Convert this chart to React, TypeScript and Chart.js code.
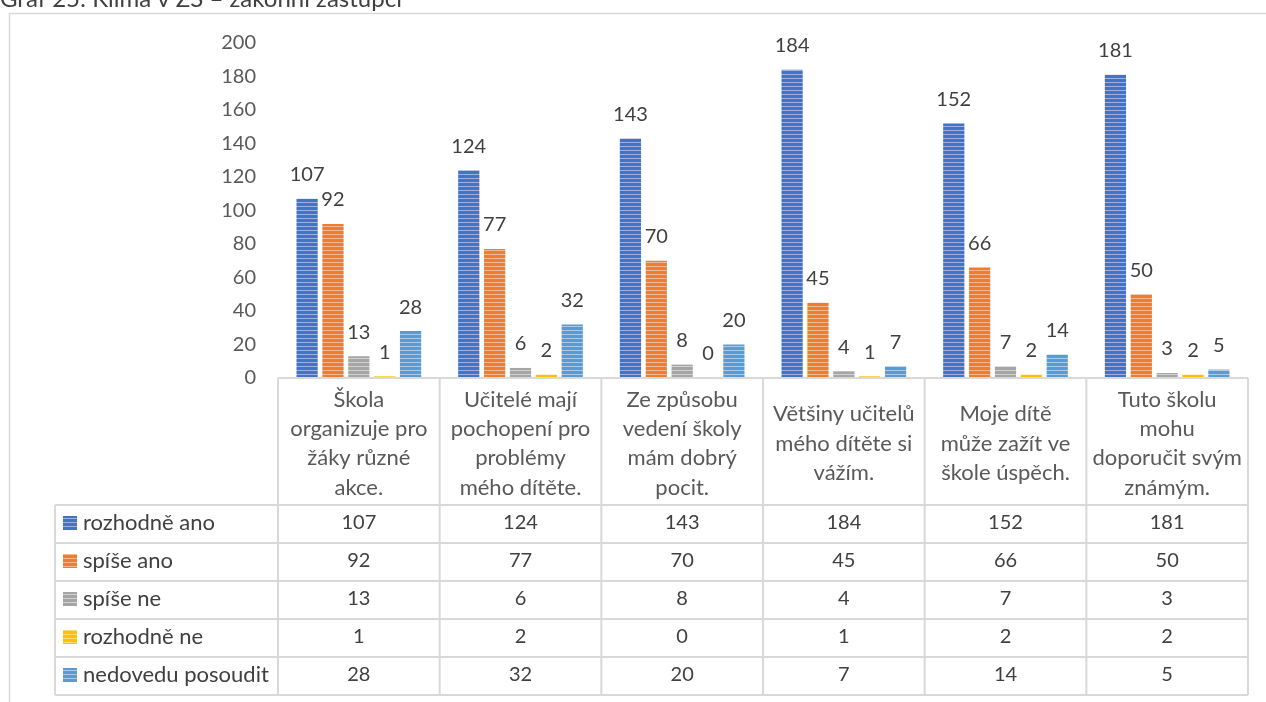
import React, { useEffect, useRef } from "react";
import { Chart, registerables } from "chart.js";

Chart.register(...registerables);

const title = "Graf 25: Klima v ZŠ – zákonní zástupci";
const categories: string[][] = [
  ["Škola", "organizuje pro", "žáky různé", "akce."],
  ["Učitelé mají", "pochopení pro", "problémy", "mého dítěte."],
  ["Ze způsobu", "vedení školy", "mám dobrý", "pocit."],
  ["Většiny učitelů", "mého dítěte si", "vážím."],
  ["Moje dítě", "může zažít ve", "škole úspěch."],
  ["Tuto školu", "mohu", "doporučit svým", "známým."],
];
const seriesNames = ["rozhodně ano", "spíše ano", "spíše ne", "rozhodně ne", "nedovedu posoudit"];
const rozhodneAno = [107, 124, 143, 184, 152, 181];
const spiseAno = [92, 77, 70, 45, 66, 50];
const spiseNe = [13, 6, 8, 4, 7, 3];
const rozhodneNe = [1, 2, 0, 1, 2, 2];
const nedovedu = [28, 32, 20, 7, 14, 5];
const seriesValues = [rozhodneAno, spiseAno, spiseNe, rozhodneNe, nedovedu];
const yMin = 0;
const yMax = 200;
const yStep = 20;

const baseColors = ["#4472C4", "#ED7D31", "#A5A5A5", "#FFC000", "#5B9BD5"];
const lightColors = ["#9AB3E0", "#F6B98F", "#D2D2D2", "#FFDC73", "#A9CBEA"];

const FONT = "Lato, 'Open Sans', sans-serif";
const FS_NUM = 20;
const FS_TXT = 22;
const FS_TITLE = 24;

function makeStripe(ctx: CanvasRenderingContext2D, base: string, light: string) {
  const c = document.createElement("canvas");
  c.width = 4;
  c.height = 4;
  const g = c.getContext("2d")!;
  g.fillStyle = base;
  g.fillRect(0, 0, 4, 4);
  g.fillStyle = light;
  g.fillRect(0, 2, 4, 1);
  return ctx.createPattern(c, "repeat")!;
}

const framePlugin = {
  id: "frame",
  beforeDraw(chart: any) {
    const ctx = chart.ctx as CanvasRenderingContext2D;
    ctx.save();
    ctx.fillStyle = "#ffffff";
    ctx.fillRect(0, 0, chart.width, chart.height);
    ctx.fillStyle = "#404040";
    ctx.font = `${FS_TITLE}px ${FONT}`;
    ctx.textAlign = "left";
    ctx.textBaseline = "alphabetic";
    ctx.fillText(title, 0, 7);
    ctx.strokeStyle = "#d9d9d9";
    ctx.lineWidth = 1.5;
    ctx.beginPath();
    ctx.moveTo(9.5, chart.height + 10);
    ctx.lineTo(9.5, 13.5);
    ctx.lineTo(chart.width + 10, 13.5);
    ctx.stroke();
    ctx.restore();
  },
};

const labelPlugin = {
  id: "valueLabels",
  afterDatasetsDraw(chart: any) {
    const ctx = chart.ctx as CanvasRenderingContext2D;
    ctx.save();
    ctx.fillStyle = "#404040";
    ctx.font = `${FS_NUM}px ${FONT}`;
    ctx.textAlign = "center";
    ctx.textBaseline = "middle";
    chart.data.datasets.forEach((ds: any, di: number) => {
      const meta = chart.getDatasetMeta(di);
      meta.data.forEach((el: any, i: number) => {
        ctx.fillText(String(ds.data[i]), el.x, el.y - 24);
      });
    });
    ctx.restore();
  },
};

const tablePlugin = {
  id: "dataTable",
  afterDraw(chart: any) {
    const ctx = chart.ctx as CanvasRenderingContext2D;
    const area = chart.chartArea;
    const xs = chart.scales.x;
    const n = categories.length;
    const cw = (area.right - area.left) / n;
    const top = area.bottom;
    const headerBottom = top + 127;
    const rowH = 38;
    const tableLeft = 55;
    const bottom = headerBottom + rowH * seriesNames.length;
    ctx.save();
    ctx.strokeStyle = "#d9d9d9";
    ctx.lineWidth = 2;
    ctx.beginPath();
    ctx.moveTo(area.left, top);
    ctx.lineTo(area.right, top);
    for (let i = 0; i <= n; i++) {
      const bx = area.left + cw * i;
      ctx.moveTo(bx, top);
      ctx.lineTo(bx, bottom);
    }
    ctx.moveTo(tableLeft, headerBottom);
    ctx.lineTo(tableLeft, bottom);
    for (let k = 0; k <= seriesNames.length; k++) {
      const yy = headerBottom + rowH * k;
      ctx.moveTo(tableLeft, yy);
      ctx.lineTo(area.right, yy);
    }
    ctx.stroke();

    ctx.textAlign = "center";
    ctx.textBaseline = "middle";
    ctx.fillStyle = "#595959";
    ctx.font = `${FS_TXT}px ${FONT}`;
    const hc = (top + headerBottom) / 2 + 2;
    categories.forEach((lines, i) => {
      const cx = xs.getPixelForValue(i);
      lines.forEach((ln, j) => {
        ctx.fillText(ln, cx, hc + (j - (lines.length - 1) / 2) * 29.3);
      });
    });

    seriesNames.forEach((name, k) => {
      const cy = headerBottom + rowH * (k + 0.5) - 1;
      const ds = chart.data.datasets[k];
      ctx.fillStyle = ds.backgroundColor;
      ctx.fillRect(63, cy - 7, 14, 14);
      ctx.fillStyle = "#404040";
      ctx.textAlign = "left";
      ctx.font = `${FS_TXT}px ${FONT}`;
      ctx.fillText(name, 83, cy);
      ctx.textAlign = "center";
      ctx.font = `${FS_NUM}px ${FONT}`;
      seriesValues[k].forEach((v, i) => {
        ctx.fillText(String(v), xs.getPixelForValue(i), cy);
      });
    });
    ctx.restore();
  },
};

export default function App() {
  const ref = useRef<HTMLCanvasElement | null>(null);
  useEffect(() => {
    const canvas = ref.current!;
    const ctx = canvas.getContext("2d")!;
    const chart = new Chart(canvas, {
      type: "bar",
      data: {
        labels: categories.map((c) => c.join(" ")),
        datasets: seriesNames.map((name, k) => ({
          label: name,
          data: seriesValues[k],
          backgroundColor: makeStripe(ctx, baseColors[k], lightColors[k]) as any,
          borderWidth: 0,
          categoryPercentage: 0.8,
          barPercentage: 0.82,
        })),
      },
      options: {
        animation: false,
        responsive: false,
        devicePixelRatio: 1,
        layout: { padding: { left: 218, right: 18, top: 43, bottom: 324 } },
        plugins: { legend: { display: false }, tooltip: { enabled: false }, title: { display: false } },
        scales: {
          x: { display: false, grid: { display: false } },
          y: {
            min: yMin,
            max: yMax,
            afterFit: (s: any) => {
              s.width = 60;
            },
            grid: { display: false, drawTicks: false },
            border: { display: false },
            ticks: {
              stepSize: yStep,
              padding: 22,
              color: "#595959",
              font: { family: FONT, size: FS_NUM },
            },
          },
        },
      },
      plugins: [framePlugin, labelPlugin, tablePlugin],
    });
    return () => chart.destroy();
  }, []);
  return (
    <div style={{ position: "absolute", left: 0, top: 0, width: 1266, height: 702 }}>
      <canvas ref={ref} width={1266} height={702} style={{ display: "block" }} />
    </div>
  );
}
